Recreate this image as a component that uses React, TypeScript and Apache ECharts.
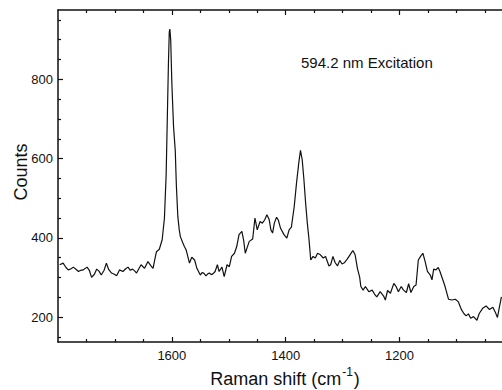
import React, { useEffect, useRef } from "react";
import * as echarts from "echarts";

const wavenumbers: number[] = [
  1797, 1791, 1786, 1782, 1777, 1773, 1768, 1764, 1760, 1756, 1749, 1745, 1741, 1736, 1732, 1728, 1724, 1719, 1715, 1711,
  1706, 1701, 1697, 1692, 1686, 1681, 1677, 1673, 1669, 1665, 1662, 1658, 1654, 1648, 1642, 1637, 1633, 1630, 1627, 1622,
  1617, 1613, 1610, 1608, 1606, 1604.5, 1603.5, 1602, 1600, 1597, 1594, 1592, 1589.5, 1587, 1585, 1581, 1578, 1575, 1572, 1569,
  1565, 1560, 1556, 1550, 1547, 1544, 1540, 1537, 1534, 1531, 1528, 1524, 1520, 1517, 1512, 1508, 1503, 1499, 1495, 1490,
  1486, 1482, 1477, 1474, 1471, 1468, 1464, 1458, 1454, 1450, 1445, 1441, 1437, 1433, 1429, 1426, 1423, 1420, 1416, 1413,
  1409, 1403, 1398, 1394, 1390, 1385, 1381, 1377, 1374, 1371, 1368, 1365, 1362, 1359, 1356, 1352, 1348, 1344, 1339, 1334,
  1330, 1324, 1321, 1317, 1313, 1309, 1305, 1301, 1297, 1292, 1287, 1282, 1278, 1274, 1270, 1268, 1264, 1260, 1254, 1248,
  1244, 1240, 1234, 1228, 1225, 1221, 1216, 1210, 1206, 1202, 1197, 1193, 1188, 1184, 1180, 1175, 1171, 1167, 1163, 1159,
  1155, 1151, 1146, 1143, 1140, 1136, 1132, 1129, 1124, 1120, 1114, 1108, 1102, 1097, 1091, 1087, 1083, 1079, 1075, 1070,
  1064, 1060, 1054, 1048, 1042, 1036, 1032, 1028, 1025, 1021,
];

const counts: number[] = [
  332, 336, 325, 319, 322, 326, 320, 315, 318, 319, 326, 318, 300, 308, 321, 316, 306, 318, 336, 320,
  311, 308, 304, 319, 315, 322, 326, 318, 321, 316, 311, 322, 332, 323, 340, 330, 323, 345, 365, 371,
  395, 450, 560, 700, 840, 920, 927, 900, 790, 680, 620, 530, 454, 420, 403, 388, 378, 370, 353, 336,
  351, 344, 323, 306, 312, 311, 304, 309, 311, 307, 309, 315, 332, 315, 326, 302, 332, 327, 353, 361,
  378, 408, 416, 395, 361, 374, 391, 397, 450, 420, 441, 437, 445, 458, 446, 420, 412, 437, 452, 445,
  424, 408, 399, 420, 427, 479, 538, 589, 621, 597, 547, 488, 437, 395, 344, 353, 349, 361, 357, 349,
  353, 329, 332, 353, 337, 329, 343, 334, 337, 346, 357, 368, 357, 323, 300, 277, 268, 277, 264, 268,
  258, 251, 264, 253, 243, 267, 260, 285, 277, 264, 277, 268, 262, 284, 262, 277, 281, 344, 353, 361,
  340, 315, 306, 294, 321, 319, 325, 315, 294, 277, 245, 243, 245, 239, 218, 209, 203, 208, 197, 201,
  192, 209, 222, 228, 219, 225, 213, 199, 222, 251,
];

const xMajorTicks: number[] = [1200, 1400, 1600];
const xMinorTicks: number[] = [1050, 1100, 1150, 1250, 1300, 1350, 1450, 1500, 1550, 1650, 1700, 1750];
const yMajorTicks: number[] = [200, 400, 600, 800];
const yMinorTicks: number[] = [150, 250, 300, 350, 450, 500, 550, 650, 700, 750, 850, 900, 950];

const X_MIN = 1020;
const X_MAX = 1800;
const Y_MIN = 137;
const Y_MAX = 975;

const FONT = "'Liberation Sans', Arial, Helvetica, sans-serif";
const INK = "#111";
const plain = (v: number) => String(v);

export default function App() {
  const ref = useRef<HTMLDivElement>(null);

  useEffect(() => {
    if (!ref.current) return;
    const chart = echarts.init(ref.current, undefined, { renderer: "svg" });
    const data = wavenumbers.map((w, i) => [w, counts[i]]);

    const xBase = {
      type: "value",
      min: X_MIN,
      max: X_MAX,
      inverse: true,
      splitLine: { show: false },
    };
    const yBase = {
      type: "value",
      min: Y_MIN,
      max: Y_MAX,
      splitLine: { show: false },
    };
    const tickStyle = { color: INK, width: 1.2 };

    chart.setOption({
      animation: false,
      backgroundColor: "#fff",
      grid: { left: 58, right: 0, top: 10, bottom: 48, containLabel: false },
      xAxis: [
        {
          ...xBase,
          position: "bottom",
          axisLine: { show: true, lineStyle: { color: INK, width: 1.5 } },
          axisTick: { show: true, inside: true, length: 5, customValues: xMajorTicks, lineStyle: tickStyle },
          axisLabel: { show: true, customValues: xMajorTicks, formatter: plain, margin: 7, color: INK, fontSize: 13, fontFamily: FONT },
        },
        {
          ...xBase,
          position: "bottom",
          axisLine: { show: false },
          axisTick: { show: true, inside: true, length: 3, customValues: xMinorTicks, lineStyle: tickStyle },
          axisLabel: { show: false },
        },
        {
          ...xBase,
          position: "top",
          axisLine: { show: true, lineStyle: { color: INK, width: 1.5 } },
          axisTick: { show: true, inside: true, length: 5, customValues: xMajorTicks, lineStyle: tickStyle },
          axisLabel: { show: false },
        },
        {
          ...xBase,
          position: "top",
          axisLine: { show: false },
          axisTick: { show: true, inside: true, length: 3, customValues: xMinorTicks, lineStyle: tickStyle },
          axisLabel: { show: false },
        },
      ],
      yAxis: [
        {
          ...yBase,
          position: "left",
          axisLine: { show: true, lineStyle: { color: INK, width: 1.5 } },
          axisTick: { show: true, inside: true, length: 5, customValues: yMajorTicks, lineStyle: tickStyle },
          axisLabel: { show: true, customValues: yMajorTicks, formatter: plain, margin: 5, color: INK, fontSize: 13, fontFamily: FONT },
        },
        {
          ...yBase,
          position: "left",
          axisLine: { show: false },
          axisTick: { show: true, inside: true, length: 3, customValues: yMinorTicks, lineStyle: tickStyle },
          axisLabel: { show: false },
        },
      ],
      series: [
        {
          type: "line",
          xAxisIndex: 0,
          yAxisIndex: 0,
          data,
          showSymbol: false,
          symbol: "none",
          lineStyle: { color: INK, width: 1.2 },
          silent: true,
        },
      ],
      graphic: [
        {
          type: "text",
          left: 301,
          top: 55,
          style: { text: "594.2 nm Excitation", fill: INK, fontSize: 15, fontFamily: FONT },
        },
        {
          type: "text",
          x: 21,
          y: 172,
          rotation: Math.PI / 2,
          style: {
            text: "Counts",
            fill: INK,
            fontSize: 18,
            fontFamily: FONT,
            align: "center",
            verticalAlign: "middle",
          },
        },
        {
          type: "text",
          x: 285,
          y: 377,
          style: {
            text: "{a|Raman shift (cm}{s|-1}{a|)}",
            fill: INK,
            fontFamily: FONT,
            align: "center",
            verticalAlign: "middle",
            rich: {
              a: { fontSize: 18, fontFamily: FONT, fill: INK, lineHeight: 22, verticalAlign: "bottom" },
              s: { fontSize: 12, fontFamily: FONT, fill: INK, lineHeight: 22, verticalAlign: "top", padding: [0, 1, 0, 1] },
            },
          },
        },
      ],
    });

    return () => chart.dispose();
  }, []);

  return (
    <div
      ref={ref}
      style={{ position: "absolute", left: 0, top: 0, width: 502, height: 390, background: "#fff" }}
    />
  );
}
